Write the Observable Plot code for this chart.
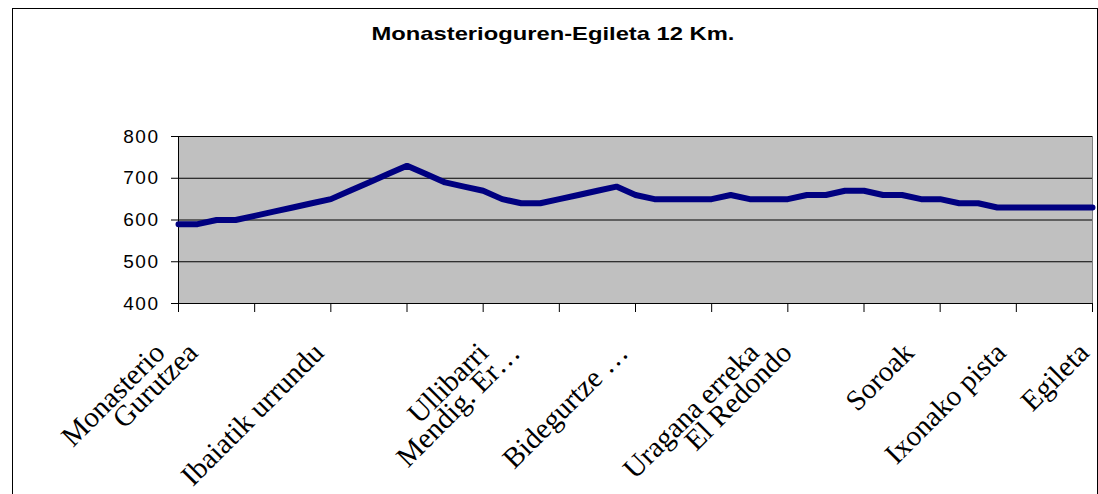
<!DOCTYPE html>
<html>
<head>
<meta charset="utf-8">
<script src="https://cdn.jsdelivr.net/npm/d3@7"></script>
<script src="https://cdn.jsdelivr.net/npm/@observablehq/plot@0.6"></script>
<style>
  html, body { margin: 0; padding: 0; background: #fff; }
  #wrap { position: relative; width: 1098px; height: 494px; overflow: hidden; background: #fff; }
  #border { position: absolute; left: 12px; top: 8px; width: 1086px; height: 540px; border: 1px solid #000; box-sizing: border-box; }
  #title { position: absolute; left: 8px; top: 23px; width: 1090px; text-align: center;
           font: bold 19px "Liberation Sans", Arial, sans-serif; transform: scaleX(1.25); transform-origin: 545px 0; }
  #chart { position: absolute; left: 0; top: 0; }
</style>
</head>
<body>
<div id="wrap">
  <div id="border"></div>
  <div id="title">Monasterioguren-Egileta 12 Km.</div>
  <div id="chart"></div>
</div>
<script>
// Elevation (m) at each category point along the 12 km route (4 points per km)
const elevation = [590,590,600,600,610,620,630,640,650,670,690,710,730,710,690,680,670,
                   650,640,640,650,660,670,680,660,650,650,650,650,660,650,650,650,
                   660,660,670,670,660,660,650,650,640,640,630,630,630,630,630,630];
// Place-name label lines and the category position each line ends at
const labelText = ["Monasterio","Gurutzea","Ibaiatik urrundu","Ullibarri","Mendig. Er…",
                   "Bidegurtze …","Uragana erreka","El Redondo","Soroak","Ixonako pista","Egileta"];
const labelPos  = [-0.63, 1.1, 7.72, 16.35, 18.03, 23.7, 30.57, 32.3, 38.7, 43.54, 47.9];
const yTicks = [400,500,600,700,800];
const kmTicks = [0,4,8,12,16,20,24,28,32,36,40,44,48];

const points = elevation.map((v, i) => ({i, v}));
const labels = labelText.map((t, k) => ({t, p: labelPos[k]}));

const chart = Plot.plot({
  width: 1098,
  height: 494,
  marginLeft: 178,
  marginRight: 6,
  marginTop: 136,
  marginBottom: 191,
  style: {background: "transparent", fontFamily: "'Liberation Sans', Arial, sans-serif", color: "#000"},
  x: {domain: [0, 48], axis: null},
  y: {domain: [400, 800], axis: null},
  marks: [
    Plot.frame({fill: "#c0c0c0", stroke: "#808080"}),
    Plot.ruleY(yTicks.filter(d => d > 400), {stroke: "#000", strokeWidth: 1}),
    Plot.ruleX([0], {stroke: "#000"}),
    Plot.ruleY([400], {stroke: "#000"}),
    Plot.axisY({ticks: yTicks, tickSize: 7, tickPadding: 12, tickFormat: d => String(d), label: null,
                fontSize: 19, fontFamily: "'Liberation Sans', Arial, sans-serif", stroke: "#000", color: "#000"}),
    Plot.axisX({ticks: kmTicks, tickSize: 9, tickFormat: () => "", label: null, stroke: "#000"}),
    Plot.line(points, {x: "i", y: "v", stroke: "#000080", strokeWidth: 6, strokeLinejoin: "miter", curve: "linear"}),
    Plot.text(labels, {x: "p", frameAnchor: "bottom", dy: 51, text: "t", rotate: -45, textAnchor: "end",
                       fontSize: 29, fontFamily: "'Liberation Serif', 'Times New Roman', serif", fill: "#000"})
  ]
});
chart.querySelectorAll("[aria-label='y-axis tick label'] text").forEach(t => t.setAttribute("letter-spacing", "1.5"));
document.getElementById("chart").appendChild(chart);
</script>
</body>
</html>
